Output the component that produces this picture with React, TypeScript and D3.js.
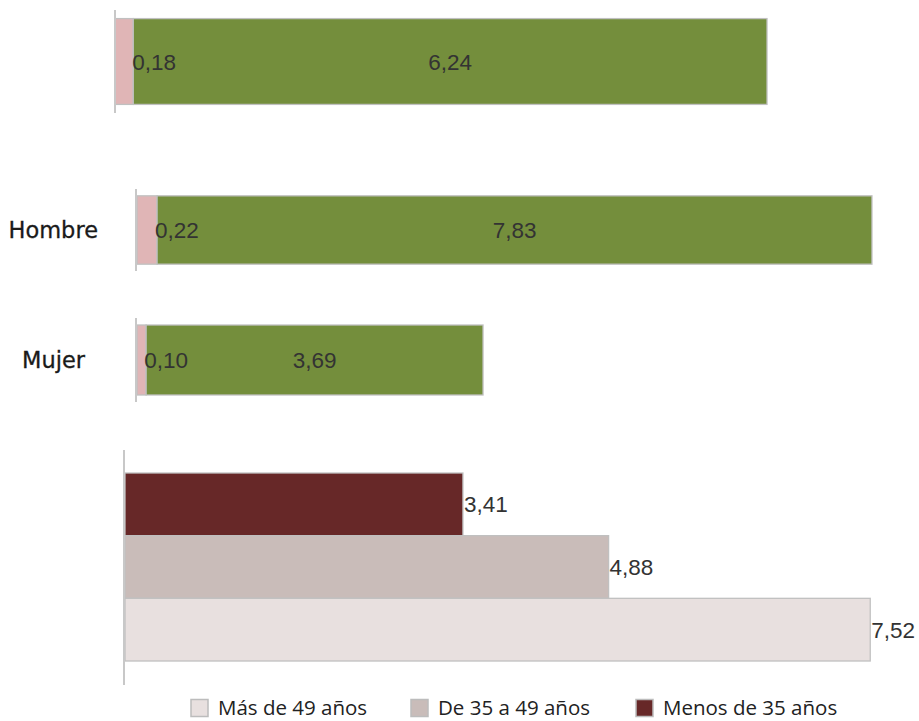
import React, { useEffect, useRef } from "react";
import * as d3 from "d3";

// ---- data ----
const topSeries = ["Pink", "Green"];
const topValues = [0.18, 6.24];
const topLabels = ["0,18", "6,24"];

const sexCategories = ["Hombre", "Mujer"];
const sexPink = [0.22, 0.1];
const sexGreen = [7.83, 3.69];
const sexPinkLabels = ["0,22", "0,10"];
const sexGreenLabels = ["7,83", "3,69"];

const ageCategories = ["Menos de 35 años", "De 35 a 49 años", "Más de 49 años"];
const ageValues = [3.41, 4.88, 7.52];
const ageLabels = ["3,41", "4,88", "7,52"];
const legendOrder = ["Más de 49 años", "De 35 a 49 años", "Menos de 35 años"];

const COLORS: Record<string, string> = {
  pink: "#e0b5b6",
  green: "#748e3c",
  "Menos de 35 años": "#672828",
  "De 35 a 49 años": "#c9bcb9",
  "Más de 49 años": "#e8e0df",
};

const W = 919;
const H = 721;
const AXIS = "#c8c8c8";
const EDGE = "#c0c0c0";
const LABEL = "#333333";
const NUMFONT = "'Liberation Sans', Arial, sans-serif";
const NUMSIZE = 22.5;

export default function App() {
  const ref = useRef<SVGSVGElement | null>(null);

  useEffect(() => {
    const svg = d3.select(ref.current);
    svg.selectAll("*").remove();

    const numText = (g: any, x: number, y: number, t: string, anchor = "start") =>
      g.append("text")
        .attr("x", x)
        .attr("y", y)
        .attr("dy", "0.36em")
        .attr("text-anchor", anchor)
        .attr("font-family", NUMFONT)
        .attr("font-size", NUMSIZE)
        .attr("fill", LABEL)
        .text(t);

    // ---------- top panel: single stacked bar ----------
    {
      const x = d3.scaleLinear().domain([0, 7]).range([115, 115 + 7 * 101.56]);
      const y = d3.scaleBand<string>().domain(["total"]).range([10, 113]).paddingInner(0).paddingOuter(0.1);
      const g = svg.append("g");
      const stackStarts = d3.cumsum([0, ...topValues]);
      const by = y("total")!;
      const bh = y.bandwidth();
      topValues.forEach((v, i) => {
        g.append("rect")
          .attr("x", x(stackStarts[i]))
          .attr("y", by)
          .attr("width", x(stackStarts[i] + v) - x(stackStarts[i]))
          .attr("height", bh)
          .attr("fill", i === 0 ? COLORS.pink : COLORS.green)
          .attr("stroke", EDGE)
          .attr("stroke-width", 1.3);
      });
      numText(g, x(stackStarts[1]) - 1, by + bh / 2, topLabels[0]);
      numText(g, (x(stackStarts[1]) + x(stackStarts[2])) / 2, by + bh / 2, topLabels[1], "middle");
      g.append("line")
        .attr("x1", x(0)).attr("x2", x(0))
        .attr("y1", 10).attr("y2", 113)
        .attr("stroke", AXIS).attr("stroke-width", 2);
    }

    // ---------- sex panels ----------
    const sexX = d3.scaleLinear().domain([0, 9]).range([137, 137 + 9 * 91.3]);
    const sexPanels = [
      { top: 189, bottom: 271 },
      { top: 318, bottom: 402 },
    ];
    sexCategories.forEach((cat, i) => {
      const p = sexPanels[i];
      const y = d3.scaleBand<string>().domain([cat]).range([p.top, p.bottom]).paddingOuter(0.1);
      const g = svg.append("g");
      const by = y(cat)!;
      const bh = y.bandwidth();
      const segs = [sexPink[i], sexGreen[i]];
      const starts = d3.cumsum([0, ...segs]);
      segs.forEach((v, j) => {
        g.append("rect")
          .attr("x", sexX(starts[j]))
          .attr("y", by)
          .attr("width", sexX(starts[j] + v) - sexX(starts[j]))
          .attr("height", bh)
          .attr("fill", j === 0 ? COLORS.pink : COLORS.green)
          .attr("stroke", EDGE)
          .attr("stroke-width", 1.3);
      });
      numText(g, sexX(starts[1]) - 2, by + bh / 2, sexPinkLabels[i]);
      numText(g, (sexX(starts[1]) + sexX(starts[2])) / 2, by + bh / 2, sexGreenLabels[i], "middle");
      g.append("line")
        .attr("x1", sexX(0) - 1).attr("x2", sexX(0) - 1)
        .attr("y1", p.top).attr("y2", p.bottom)
        .attr("stroke", AXIS).attr("stroke-width", 2);
      g.append("text")
        .attr("x", i === 0 ? 98 : 85)
        .attr("y", by + bh / 2)
        .attr("dy", "0.36em")
        .attr("text-anchor", "end")
        .attr("font-family", "'DejaVu Sans', Verdana, sans-serif")
        .attr("font-size", 22.5)
        .attr("fill", "#1a1a1a")
        .attr("stroke", "#1a1a1a")
        .attr("stroke-width", 0.3)
        .text(cat);
    });

    // ---------- age panel ----------
    {
      const x = d3.scaleLinear().domain([0, 8]).range([125, 125 + 8 * 99.1]);
      const y = d3.scaleBand<string>().domain(ageCategories).range([473, 661]).padding(0);
      const g = svg.append("g");
      ageCategories.forEach((cat, i) => {
        g.append("rect")
          .attr("x", x(0))
          .attr("y", y(cat)!)
          .attr("width", x(ageValues[i]) - x(0))
          .attr("height", y.bandwidth())
          .attr("fill", COLORS[cat])
          .attr("stroke", EDGE)
          .attr("stroke-width", 1.3);
        numText(g, x(ageValues[i]) + 1, y(cat)! + y.bandwidth() / 2, ageLabels[i]);
      });
      g.append("line")
        .attr("x1", x(0) - 1).attr("x2", x(0) - 1)
        .attr("y1", 450).attr("y2", 685)
        .attr("stroke", AXIS).attr("stroke-width", 2);
    }

    // ---------- legend ----------
    {
      const legendX = [191, 411, 636];
      const g = svg.append("g");
      legendOrder.forEach((name, i) => {
        g.append("rect")
          .attr("x", legendX[i])
          .attr("y", 699.5)
          .attr("width", 17)
          .attr("height", 17)
          .attr("fill", COLORS[name])
          .attr("stroke", "#bcbcbc")
          .attr("stroke-width", 1.5);
        g.append("text")
          .attr("x", legendX[i] + 27)
          .attr("y", 708)
          .attr("dy", "0.36em")
          .attr("font-family", "'Open Sans', 'Liberation Sans', sans-serif")
          .attr("font-size", 20.5)
          .attr("fill", "#222")
          .text(name);
      });
    }
  }, []);

  return (
    <svg
      ref={ref}
      width={W}
      height={H}
      style={{ position: "absolute", left: 0, top: 0, background: "#fff" }}
    />
  );
}
